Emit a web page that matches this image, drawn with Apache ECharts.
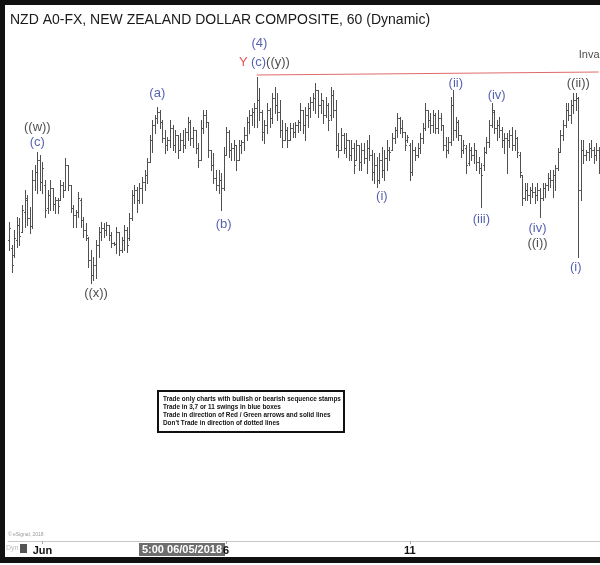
<!DOCTYPE html>
<html><head><meta charset="utf-8">
<script src="https://cdn.jsdelivr.net/npm/echarts@6/dist/echarts.min.js"></script>
<style>html,body{margin:0;padding:0;background:#fff}#c{width:600px;height:565px}</style>
</head><body><div id="c"></div>
<script>
// ---- Data (NZD hourly OHLC) ----
const dayList = ['05/31','06/01','06/04','06/05','06/06','06/07','06/08','06/11','06/12','06/13','06/14'];
const opens = [
0.7060,0.7052,0.7045,0.7060,0.7075,0.7068,0.7088,0.7100,0.7082,0.7074,
0.7120,0.7128,0.7140,0.7118,0.7115,0.7092,0.7105,0.7112,0.7096,0.7100,
0.7100,0.7115,0.7110,0.7135,0.7115,0.7092,0.7085,0.7088,0.7100,0.7080,
0.7070,0.7062,0.7040,0.7025,0.7035,0.7055,0.7068,0.7072,0.7070,0.7075,
0.7065,0.7057,0.7056,0.7068,0.7050,0.7060,0.7070,0.7062,0.7082,0.7105,
0.7110,0.7100,0.7112,0.7118,0.7125,0.7138,0.7160,0.7175,0.7182,0.7188,
0.7178,0.7162,0.7155,0.7160,0.7172,0.7155,0.7165,0.7150,0.7160,0.7155,
0.7168,0.7178,0.7162,0.7170,0.7152,0.7140,0.7172,0.7185,0.7178,0.7150,
0.7135,0.7122,0.7115,0.7120,0.7112,0.7145,0.7168,0.7150,0.7152,0.7155,
0.7140,0.7155,0.7158,0.7165,0.7178,0.7185,0.7188,0.7192,0.7200,0.7188,
0.7168,0.7175,0.7190,0.7182,0.7202,0.7195,0.7188,0.7170,0.7160,0.7170,
0.7160,0.7172,0.7168,0.7175,0.7178,0.7190,0.7175,0.7185,0.7192,0.7198,
0.7202,0.7210,0.7195,0.7200,0.7185,0.7195,0.7185,0.7205,0.7190,0.7155,
0.7150,0.7165,0.7152,0.7160,0.7145,0.7152,0.7140,0.7155,0.7138,0.7150,
0.7142,0.7152,0.7145,0.7128,0.7135,0.7120,0.7140,0.7130,0.7142,0.7150,
0.7150,0.7162,0.7170,0.7182,0.7172,0.7168,0.7160,0.7155,0.7128,0.7150,
0.7145,0.7152,0.7162,0.7172,0.7190,0.7180,0.7175,0.7185,0.7172,0.7182,
0.7175,0.7155,0.7150,0.7158,0.7195,0.7170,0.7178,0.7165,0.7150,0.7152,
0.7137,0.7150,0.7145,0.7150,0.7138,0.7132,0.7135,0.7148,0.7158,0.7175,
0.7188,0.7172,0.7175,0.7170,0.7160,0.7162,0.7160,0.7165,0.7155,0.7162,
0.7145,0.7125,0.7102,0.7110,0.7105,0.7110,0.7108,0.7105,0.7110,0.7102,
0.7112,0.7115,0.7122,0.7120,0.7125,0.7132,0.7148,0.7165,0.7175,0.7190,
0.7185,0.7195,0.7200,0.7202,0.7110,0.7150,0.7145,0.7148,0.7152,0.7150,
0.7145,0.7150];
const highs = [
0.7078,0.7055,0.7070,0.7083,0.7082,0.7095,0.7110,0.7105,0.7093,0.7130,
0.7135,0.7148,0.7145,0.7138,0.7120,0.7110,0.7120,0.7112,0.7103,0.7102,
0.7120,0.7118,0.7142,0.7135,0.7115,0.7095,0.7090,0.7108,0.7102,0.7083,
0.7077,0.7063,0.7050,0.7043,0.7060,0.7073,0.7078,0.7077,0.7078,0.7075,
0.7068,0.7058,0.7073,0.7068,0.7063,0.7075,0.7073,0.7087,0.7110,0.7115,
0.7113,0.7117,0.7123,0.7130,0.7142,0.7165,0.7180,0.7185,0.7193,0.7190,
0.7180,0.7170,0.7163,0.7180,0.7175,0.7170,0.7165,0.7167,0.7170,0.7172,
0.7183,0.7180,0.7173,0.7170,0.7157,0.7180,0.7190,0.7190,0.7178,0.7150,
0.7147,0.7130,0.7130,0.7127,0.7153,0.7173,0.7170,0.7157,0.7160,0.7155,
0.7160,0.7160,0.7173,0.7183,0.7190,0.7192,0.7197,0.7223,0.7212,0.7190,
0.7180,0.7197,0.7192,0.7207,0.7213,0.7207,0.7200,0.7180,0.7177,0.7173,
0.7177,0.7177,0.7178,0.7180,0.7197,0.7190,0.7193,0.7197,0.7203,0.7207,
0.7217,0.7210,0.7207,0.7200,0.7203,0.7197,0.7213,0.7210,0.7200,0.7167,
0.7172,0.7167,0.7167,0.7160,0.7160,0.7157,0.7160,0.7155,0.7157,0.7157,
0.7160,0.7165,0.7150,0.7147,0.7143,0.7147,0.7153,0.7150,0.7160,0.7153,
0.7167,0.7173,0.7187,0.7183,0.7180,0.7168,0.7165,0.7157,0.7160,0.7153,
0.7157,0.7167,0.7177,0.7197,0.7190,0.7187,0.7190,0.7187,0.7190,0.7187,
0.7175,0.7163,0.7163,0.7203,0.7210,0.7183,0.7180,0.7165,0.7160,0.7155,
0.7157,0.7153,0.7157,0.7150,0.7143,0.7137,0.7153,0.7163,0.7180,0.7197,
0.7190,0.7180,0.7183,0.7173,0.7167,0.7167,0.7170,0.7173,0.7170,0.7163,
0.7148,0.7125,0.7117,0.7117,0.7113,0.7117,0.7113,0.7117,0.7112,0.7117,
0.7117,0.7127,0.7130,0.7130,0.7135,0.7152,0.7170,0.7180,0.7197,0.7197,
0.7200,0.7207,0.7207,0.7203,0.7160,0.7160,0.7150,0.7157,0.7160,0.7153,
0.7157,0.7153];
const lows = [
0.7050,0.7028,0.7043,0.7053,0.7055,0.7068,0.7073,0.7075,0.7067,0.7072,
0.7110,0.7107,0.7110,0.7107,0.7083,0.7087,0.7090,0.7090,0.7087,0.7087,
0.7100,0.7103,0.7110,0.7110,0.7088,0.7073,0.7073,0.7083,0.7073,0.7063,
0.7060,0.7033,0.7017,0.7020,0.7022,0.7043,0.7060,0.7063,0.7065,0.7060,
0.7053,0.7055,0.7047,0.7045,0.7048,0.7050,0.7048,0.7060,0.7080,0.7097,
0.7088,0.7097,0.7097,0.7110,0.7117,0.7138,0.7148,0.7167,0.7177,0.7172,
0.7158,0.7147,0.7150,0.7153,0.7150,0.7148,0.7142,0.7150,0.7148,0.7152,
0.7160,0.7155,0.7153,0.7147,0.7133,0.7140,0.7167,0.7173,0.7143,0.7130,
0.7117,0.7110,0.7107,0.7090,0.7110,0.7145,0.7143,0.7140,0.7140,0.7130,
0.7140,0.7147,0.7150,0.7160,0.7167,0.7175,0.7173,0.7173,0.7180,0.7160,
0.7157,0.7167,0.7173,0.7177,0.7187,0.7180,0.7163,0.7153,0.7160,0.7153,
0.7160,0.7163,0.7163,0.7168,0.7170,0.7167,0.7160,0.7173,0.7183,0.7190,
0.7187,0.7183,0.7187,0.7177,0.7183,0.7170,0.7180,0.7183,0.7150,0.7143,
0.7150,0.7147,0.7143,0.7140,0.7140,0.7127,0.7140,0.7130,0.7130,0.7137,
0.7127,0.7140,0.7120,0.7117,0.7113,0.7117,0.7123,0.7120,0.7130,0.7140,
0.7150,0.7157,0.7163,0.7167,0.7163,0.7150,0.7158,0.7120,0.7125,0.7140,
0.7143,0.7147,0.7157,0.7170,0.7173,0.7167,0.7168,0.7167,0.7167,0.7170,
0.7150,0.7143,0.7147,0.7155,0.7160,0.7163,0.7160,0.7143,0.7147,0.7127,
0.7135,0.7140,0.7137,0.7130,0.7127,0.7093,0.7130,0.7147,0.7153,0.7173,
0.7167,0.7160,0.7163,0.7153,0.7147,0.7127,0.7153,0.7150,0.7150,0.7143,
0.7123,0.7095,0.7100,0.7100,0.7097,0.7103,0.7097,0.7100,0.7083,0.7100,
0.7103,0.7110,0.7113,0.7103,0.7110,0.7130,0.7148,0.7160,0.7173,0.7180,
0.7177,0.7187,0.7190,0.7043,0.7100,0.7137,0.7140,0.7140,0.7143,0.7137,
0.7140,0.7127];
const closes = [
0.7072,0.7035,0.7062,0.7075,0.7064,0.7090,0.7102,0.7082,0.7074,0.7120,
0.7128,0.7140,0.7118,0.7132,0.7090,0.7105,0.7112,0.7096,0.7100,0.7094,
0.7115,0.7110,0.7135,0.7115,0.7092,0.7085,0.7088,0.7102,0.7080,0.7070,
0.7065,0.7040,0.7025,0.7035,0.7055,0.7068,0.7072,0.7070,0.7075,0.7065,
0.7057,0.7056,0.7068,0.7050,0.7060,0.7070,0.7055,0.7082,0.7105,0.7110,
0.7100,0.7112,0.7118,0.7125,0.7138,0.7160,0.7175,0.7182,0.7188,0.7178,
0.7162,0.7155,0.7160,0.7172,0.7155,0.7165,0.7150,0.7160,0.7155,0.7168,
0.7178,0.7162,0.7170,0.7152,0.7140,0.7172,0.7185,0.7178,0.7150,0.7135,
0.7122,0.7115,0.7120,0.7112,0.7145,0.7168,0.7150,0.7152,0.7155,0.7140,
0.7155,0.7158,0.7165,0.7178,0.7185,0.7188,0.7192,0.7200,0.7188,0.7168,
0.7175,0.7190,0.7182,0.7202,0.7195,0.7188,0.7170,0.7160,0.7170,0.7160,
0.7172,0.7168,0.7175,0.7178,0.7190,0.7175,0.7185,0.7192,0.7198,0.7202,
0.7210,0.7195,0.7200,0.7185,0.7195,0.7180,0.7205,0.7190,0.7155,0.7150,
0.7165,0.7152,0.7160,0.7145,0.7152,0.7135,0.7155,0.7138,0.7150,0.7142,
0.7152,0.7145,0.7128,0.7135,0.7120,0.7140,0.7130,0.7142,0.7150,0.7148,
0.7162,0.7170,0.7182,0.7172,0.7168,0.7155,0.7163,0.7128,0.7150,0.7145,
0.7152,0.7162,0.7172,0.7190,0.7180,0.7175,0.7185,0.7172,0.7182,0.7175,
0.7155,0.7150,0.7158,0.7195,0.7170,0.7178,0.7165,0.7150,0.7155,0.7135,
0.7150,0.7145,0.7150,0.7138,0.7132,0.7125,0.7148,0.7158,0.7175,0.7190,
0.7172,0.7175,0.7170,0.7160,0.7162,0.7160,0.7165,0.7155,0.7162,0.7148,
0.7128,0.7102,0.7110,0.7105,0.7110,0.7108,0.7105,0.7110,0.7102,0.7112,
0.7115,0.7122,0.7120,0.7125,0.7132,0.7148,0.7165,0.7175,0.7190,0.7185,
0.7195,0.7200,0.7202,0.7110,0.7150,0.7145,0.7148,0.7152,0.7150,0.7145,
0.7150,0.7140];

// x-axis tick labels
const tickCats = ['06/01 00:00','06/06 00:00','06/11 00:00'];
const tickTexts = ['Jun','6','11'];

// Elliott wave labels
const waveTexts  = ['((w))','(c)','((x))','(a)','(b)','(4)','(i)','(ii)','(iii)','(iv)','(iv)','((i))','((ii))','(i)'];
const waveIdx    = [11,11,34,58,84,98,146,175,185,191,207,207,223,222];
const wavePrices = [0.7173,0.7158,0.7007,0.7207,0.7076,0.7257,0.7104,0.7217,0.7081,0.7205,0.7072,0.7057,0.7217,0.7033];
const waveDegree = ['primary','minor','primary','minor','minor','minor','minor','minor','minor','minor','minor','primary','primary','minor'];

// Y(c)((y)) label and invalidation line
const yLabelIdx = 100, yLabelPrice = 0.7238;
const invalIdx = [97, 231];
const invalPrices = [0.7225, 0.7228];
const invalTextIdx = 223, invalTextPrice = 0.7245;

// ---- Build ----
const categories = [];
for (let d = 0; d < dayList.length && categories.length < opens.length; d++) {
  for (let h = (d === 0 ? 11 : 0); h < 24 && categories.length < opens.length; h++) {
    categories.push(dayList[d] + ' ' + String(h).padStart(2, '0') + ':00');
  }
}
const FONT = 'Liberation Sans, Arial, sans-serif';
const BLUE = '#2b3a9c', BLACK = '#222', RED = '#e3262b';
const degreeColor = {primary: BLACK, minor: BLUE};

const chart = echarts.init(document.getElementById('c'), null, {renderer: 'canvas'});
const isTick = (idx, val) => tickCats.indexOf(val) >= 0;

chart.setOption({
  animation: false,
  backgroundColor: '#fff',
  grid: {left: 8, right: 0, top: 20, bottom: 24},
  xAxis: {
    type: 'category', data: categories,
    axisLine: {show: true, lineStyle: {color: '#c8c8c8', width: 1}},
    axisTick: {show: true, alignWithLabel: true, interval: isTick, length: 3, lineStyle: {color: '#aaa'}},
    axisLabel: {interval: isTick, formatter: v => tickTexts[tickCats.indexOf(v)] || '',
      color: '#111', fontWeight: 'bold', fontSize: 11, fontFamily: FONT, margin: 4},
    splitLine: {show: false}
  },
  yAxis: {type: 'value', min: 0.6759, max: 0.7280, show: false, splitLine: {show: false}},
  series: [
    {
      type: 'custom',
      data: opens.map((o, i) => [i, o, highs[i], lows[i], closes[i]]),
      encode: {x: 0, y: [1, 2, 3, 4]},
      renderItem: (params, api) => {
        const i = api.value(0);
        const pO = api.coord([i, api.value(1)]);
        const pH = api.coord([i, api.value(2)]);
        const pL = api.coord([i, api.value(3)]);
        const pC = api.coord([i, api.value(4)]);
        const x = Math.round(pH[0]) + 0.5;
        const t = 1.4;
        const st = {stroke: '#505050', lineWidth: 1};
        return {type: 'group', children: [
          {type: 'line', shape: {x1: x, y1: Math.round(pH[1]), x2: x, y2: Math.round(pL[1]) + 1}, style: st},
          {type: 'line', shape: {x1: x - t, y1: Math.round(pO[1]) + 0.5, x2: x, y2: Math.round(pO[1]) + 0.5}, style: st},
          {type: 'line', shape: {x1: x, y1: Math.round(pC[1]) + 0.5, x2: x + t, y2: Math.round(pC[1]) + 0.5}, style: st}
        ]};
      },
      z: 2
    },
    {
      type: 'line', data: invalIdx.map((ix, k) => [ix, invalPrices[k]]),
      symbol: 'none', lineStyle: {color: '#e06a6a', width: 1}, z: 3, silent: true
    },
    {
      type: 'scatter', symbolSize: 1, itemStyle: {color: 'transparent'}, silent: true, z: 5,
      data: waveTexts.map((t, k) => ({
        value: [waveIdx[k], wavePrices[k]],
        label: {show: true, position: 'inside', formatter: t, color: degreeColor[waveDegree[k]],
          fontSize: 13, fontFamily: FONT}
      }))
    },
    {
      type: 'scatter', symbolSize: 1, itemStyle: {color: 'transparent'}, silent: true, z: 5,
      data: [
        {value: [yLabelIdx, yLabelPrice], label: {show: true, position: 'inside',
          formatter: '{r|Y} {b|(c)}{k|((y))}',
          rich: {r: {color: RED, fontSize: 13, fontFamily: FONT},
                 b: {color: BLUE, fontSize: 13, fontFamily: FONT},
                 k: {color: BLACK, fontSize: 13, fontFamily: FONT}}}},
        {value: [invalTextIdx, invalTextPrice], label: {show: true, position: 'right', distance: 0,
          formatter: 'Invalidation level', color: '#222', fontSize: 11, fontFamily: FONT}}
      ]
    }
  ],
  graphic: [
    {type: 'text', left: 10, top: 13, z: 10,
      style: {text: 'NZD A0-FX, NEW ZEALAND DOLLAR COMPOSITE, 60 (Dynamic)', font: '14px ' + FONT, fill: '#1a1a1a'}},
    {type: 'group', left: 157, top: 390, z: 10, children: [
      {type: 'rect', shape: {x: 0, y: 0, width: 186, height: 41}, style: {fill: '#fff', stroke: '#111', lineWidth: 2}},
      {type: 'text', x: 5, y: 4, style: {
        text: "Trade only charts with bullish or bearish sequence stamps\nTrade in 3,7 or 11 swings in blue boxes\nTrade in direction of Red / Green arrows and solid lines\nDon't Trade in direction of dotted lines",
        font: 'bold 6.4px ' + FONT, fill: '#111', lineHeight: 8.2}}
    ]},
    {type: 'text', left: 8, top: 532, z: 10, style: {text: '\u00a9 eSignal, 2018', font: '5px ' + FONT, fill: '#999'}},
    {type: 'text', left: 6, top: 545, z: 10, style: {text: 'Dyn', font: '7px ' + FONT, fill: '#bbb'}},
    {type: 'rect', left: 20, top: 544, z: 10, shape: {width: 7, height: 9}, style: {fill: '#555'}},
    {type: 'group', left: 139, top: 543, z: 20, children: [
      {type: 'rect', shape: {x: 0, y: 0, width: 86, height: 13}, style: {fill: '#6d6d6d'}},
      {type: 'text', x: 43, y: 7, style: {text: '5:00 06/05/2018', font: 'bold 11px ' + FONT, fill: '#fff', align: 'center', verticalAlign: 'middle'}}
    ]},
    {type: 'rect', left: 0, top: 0, z: 30, shape: {width: 600, height: 5}, style: {fill: '#111'}},
    {type: 'rect', left: 0, top: 0, z: 30, shape: {width: 5, height: 563}, style: {fill: '#111'}},
    {type: 'rect', left: 0, top: 557, z: 30, shape: {width: 600, height: 6}, style: {fill: '#111'}}
  ]
});
</script></body></html>
